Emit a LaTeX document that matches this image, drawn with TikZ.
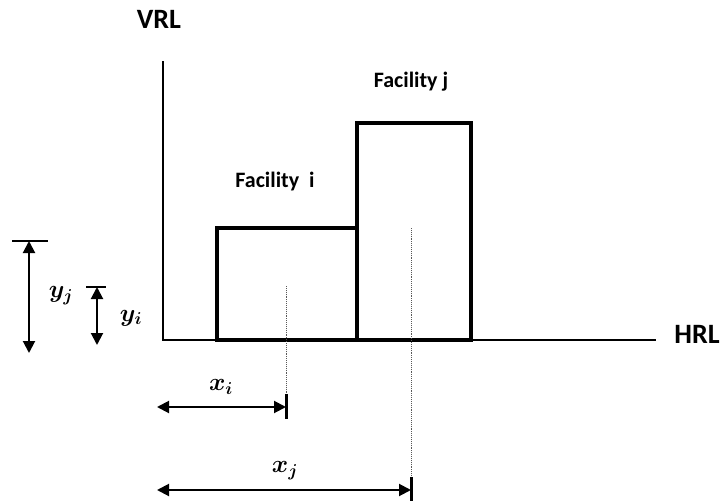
\documentclass[tikz,border=0pt]{standalone}
\usepackage{amsmath,amssymb,bm}
\usepackage{fontspec}
\setmainfont{Carlito}
\usetikzlibrary{arrows.meta}

\begin{document}
\begin{tikzpicture}[x=1pt,y=-1pt,
  facility/.style={draw, line width=3.2pt},
  dimline/.style={line width=2pt, {Triangle[length=12pt,width=12pt]}-{Triangle[length=12pt,width=12pt]}},
  guide/.style={densely dotted, line width=0.9pt, gray!70!black},
  lbl/.style={font=\bfseries\fontsize{22}{26}\selectfont},
  axlbl/.style={font=\bfseries\fontsize{28}{32}\selectfont},
  mlbl/.style={font=\fontsize{24}{28}\selectfont}]
\useasboundingbox (0,0) rectangle (721,501);
% axes
\coordinate (origin) at (163,340);
\coordinate (vtop) at (163,61);
\coordinate (hend) at (656,340);
\draw[line width=2pt] (vtop) -- (origin) -- (hend);
\node[axlbl] (vrl) at (159,19) {VRL};
\node[axlbl] (hrl) at (697,334) {HRL};
% facilities
\draw[facility] (217,340) rectangle (357,228);
\draw[facility] (357,340) rectangle (471,123);
\node[lbl] (fi) at (275,182) {Facility\ \ i};
\node[lbl] (fj) at (411,82) {Facility j};
% centre guides
\coordinate (ci) at (286,286);
\coordinate (cj) at (411,228);
\coordinate (xi end) at (286,407);
\coordinate (xj end) at (411,490);
\draw[guide] (ci) -- (286,418);
\draw[guide] (cj) -- (411,498);
% x distances
\coordinate (xi start) at (157,407);
\coordinate (xj start) at (157,490);
\draw[dimline] (xi start) -- (xi end);
\draw[line width=3pt] (286,394) -- (286,419);
\node[mlbl] (xi) at (221,387) {$\bm{x_i}$};
\draw[dimline] (xj start) -- (xj end);
\draw[line width=3pt] (411,477) -- (411,501);
\node[mlbl] (xj) at (285,471) {$\bm{x_j}$};
% y distances
\coordinate (yj top) at (29,241);
\coordinate (yj bot) at (29,353);
\draw[line width=2pt] (12,241) -- (48,241);
\draw[dimline] (yj top) -- (yj bot);
\node[mlbl] (yj) at (61,296) {$\bm{y_j}$};
\coordinate (yi top) at (97,287);
\coordinate (yi bot) at (97,345);
\draw[line width=2pt] (86,287) -- (106,287);
\draw[dimline] (yi top) -- (yi bot);
\node[mlbl] (yi) at (131,318) {$\bm{y_i}$};
\end{tikzpicture}
\end{document}
